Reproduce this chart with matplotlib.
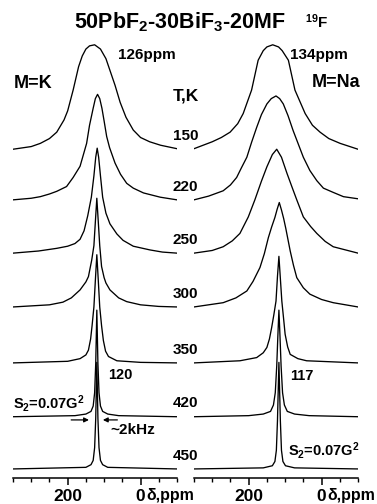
import numpy as np
import matplotlib
matplotlib.use('Agg')
import matplotlib.pyplot as plt
from matplotlib.ticker import MultipleLocator, FixedLocator

plt.rcParams['font.family'] = ['Liberation Sans', 'DejaVu Sans']
plt.rcParams['font.weight'] = 'bold'
plt.rcParams['mathtext.fontset'] = 'custom'
plt.rcParams['mathtext.rm'] = 'Liberation Sans:bold'
plt.rcParams['mathtext.bf'] = 'Liberation Sans:bold'
plt.rcParams['mathtext.it'] = 'Liberation Sans:bold'

# temperatures, top trace first
temps = ['150', '220', '250', '300', '350', '420', '450']
offsets = [6.0, 5.05, 4.05, 3.04, 1.99, 0.98, 0.0]

# ---- M=K spectra (ppm, intensity)
K150_ppm = [350, 300, 275, 250, 230, 210, 200, 185, 170, 160, 150, 140, 126, 110, 95, 85, 70, 56, 40, 20, 0, -25, -55, -100]
K150_I = [0.0, 0.05, 0.11, 0.2, 0.32, 0.55, 0.72, 1.11, 1.55, 1.75, 1.88, 1.94, 1.96, 1.88, 1.7, 1.5, 1.2, 0.88, 0.6, 0.36, 0.22, 0.14, 0.075, 0.01]
K220_ppm = [350, 300, 275, 250, 230, 203, 185, 166, 148, 140, 130, 124, 118, 112, 106, 100, 93, 85, 70, 55, 38, 20, -8, -54, -100]
K220_I = [0.0, 0.03, 0.06, 0.11, 0.16, 0.25, 0.42, 0.63, 1.06, 1.4, 1.72, 1.9, 1.98, 1.9, 1.72, 1.48, 1.19, 0.98, 0.69, 0.48, 0.31, 0.22, 0.13, 0.05, 0.0]
K250_ppm = [350, 280, 230, 200, 180, 166, 155, 145, 135, 128, 123, 119, 115, 110, 104, 95, 84, 65, 48, 20, -26, -60, -100]
K250_I = [0.0, 0.04, 0.09, 0.13, 0.18, 0.26, 0.42, 0.7, 1.05, 1.45, 1.8, 1.97, 1.8, 1.45, 1.05, 0.75, 0.55, 0.36, 0.24, 0.13, 0.06, 0.02, 0.0]
K300_ppm = [350, 250, 213, 190, 166, 150, 143, 134, 128, 124, 120, 116, 112, 107, 100, 95, 84, 60, 38, 0, -50, -100]
K300_I = [0.0, 0.04, 0.09, 0.17, 0.32, 0.47, 0.57, 0.88, 1.15, 1.6, 2.04, 1.6, 1.15, 0.76, 0.55, 0.45, 0.32, 0.17, 0.1, 0.04, 0.01, 0.0]
K350_ppm = [350, 200, 166, 150, 143, 137, 133, 128, 124, 120, 116, 112, 107, 102, 96, 88, 65, 0, -100]
K350_I = [0.0, 0.03, 0.08, 0.15, 0.24, 0.45, 0.7, 1.05, 1.55, 2.03, 1.55, 1.05, 0.7, 0.42, 0.22, 0.12, 0.04, 0.01, 0.0]
K420_ppm = [350, 180, 150, 136, 130, 126, 123, 120, 117, 114, 110, 104, 90, 60, -100]
K420_I = [0.0, 0.02, 0.05, 0.1, 0.2, 0.45, 1.0, 2.0, 1.0, 0.45, 0.2, 0.1, 0.05, 0.02, 0.0]
K450_ppm = [350, 150, 136, 130, 126, 123, 120, 117, 114, 110, 104, 90, -100]
K450_I = [0.0, 0.03, 0.08, 0.16, 0.4, 0.95, 2.0, 0.95, 0.4, 0.16, 0.08, 0.03, 0.0]

# ---- M=Na spectra
Na150_ppm = [350, 300, 275, 251, 230, 215, 192, 174, 160, 150, 134, 118, 108, 91, 73, 45, 25, 4, -20, -51, -100]
Na150_I = [0.01, 0.14, 0.22, 0.32, 0.48, 0.67, 1.11, 1.67, 1.85, 1.92, 1.96, 1.92, 1.85, 1.67, 1.11, 0.67, 0.45, 0.32, 0.2, 0.11, 0.0]
Na220_ppm = [350, 310, 270, 250, 233, 220, 205, 192, 178, 165, 150, 138, 125, 115, 105, 92, 78, 64, 50, 32, 13, -5, -32, -60, -100]
Na220_I = [0.0, 0.07, 0.17, 0.28, 0.42, 0.6, 0.8, 1.08, 1.36, 1.6, 1.8, 1.9, 1.95, 1.9, 1.8, 1.58, 1.3, 1.05, 0.8, 0.55, 0.36, 0.22, 0.14, 0.06, 0.02]
Na250_ppm = [350, 300, 270, 245, 224, 201, 183, 165, 150, 135, 123, 110, 95, 80, 68, 50, 30, 13, -10, -32, -100]
Na250_I = [0.0, 0.05, 0.12, 0.23, 0.37, 0.68, 1.0, 1.35, 1.62, 1.85, 1.95, 1.8, 1.5, 1.22, 1.0, 0.68, 0.5, 0.37, 0.22, 0.12, 0.0]
Na300_ppm = [350, 270, 235, 205, 188, 169, 157, 146, 137, 128, 122, 116, 110, 104, 98, 92, 86, 77, 68, 50, 32, 0, -32, -100]
Na300_I = [0.0, 0.08, 0.17, 0.3, 0.48, 0.74, 1.0, 1.3, 1.5, 1.68, 1.83, 1.96, 1.82, 1.66, 1.47, 1.26, 1.05, 0.78, 0.55, 0.36, 0.24, 0.14, 0.08, 0.0]
Na350_ppm = [350, 224, 178, 160, 150, 143, 137, 131, 125, 121, 117, 113, 109, 104, 100, 93, 86, 65, 41, -100]
Na350_I = [0.0, 0.04, 0.1, 0.19, 0.29, 0.45, 0.66, 0.9, 1.16, 1.62, 2.0, 1.58, 1.16, 0.82, 0.54, 0.3, 0.16, 0.08, 0.04, 0.0]
Na420_ppm = [350, 200, 160, 140, 132, 127, 123, 120, 117, 114, 111, 107, 102, 94, 74, 34, -100]
Na420_I = [0.0, 0.02, 0.05, 0.1, 0.22, 0.45, 0.95, 1.5, 2.0, 1.5, 0.95, 0.45, 0.22, 0.1, 0.05, 0.02, 0.0]
Na450_ppm = [350, 160, 135, 128, 124, 121, 117, 113, 110, 106, 99, 74, -100]
Na450_I = [0.0, 0.02, 0.06, 0.14, 0.35, 0.9, 2.0, 0.9, 0.35, 0.14, 0.06, 0.02, 0.0]

K_ppm = [K150_ppm, K220_ppm, K250_ppm, K300_ppm, K350_ppm, K420_ppm, K450_ppm]
K_I = [K150_I, K220_I, K250_I, K300_I, K350_I, K420_I, K450_I]
Na_ppm = [Na150_ppm, Na220_ppm, Na250_ppm, Na300_ppm, Na350_ppm, Na420_ppm, Na450_ppm]
Na_I = [Na150_I, Na220_I, Na250_I, Na300_I, Na350_I, Na420_I, Na450_I]

W, H = 377, 504
fig = plt.figure(figsize=(W / 100, H / 100), dpi=100)
bot = (H - 478) / H
hgt = (478 - 40) / H
axK = fig.add_axes([13 / W, bot, 164 / W, hgt])
axNa = fig.add_axes([194 / W, bot, 164 / W, hgt])

for ax, xs, ys in [(axK, K_ppm, K_I), (axNa, Na_ppm, Na_I)]:
    for i in range(len(temps)):
        ax.plot(xs[i], np.array(ys[i]) + offsets[i], color='black', lw=0.95)
    ax.set_xlim(350, -100)
    ax.set_ylim(-0.17, 8.05)
    for s in ['top', 'left', 'right']:
        ax.spines[s].set_visible(False)
    ax.spines['bottom'].set_linewidth(1.1)
    ax.set_yticks([])
    ax.xaxis.set_major_locator(FixedLocator([200, 0]))
    ax.xaxis.set_minor_locator(MultipleLocator(50))
    ax.tick_params(axis='x', which='major', direction='out', length=5, width=1.1, pad=3, labelsize=12.5)
    ax.tick_params(axis='x', which='minor', direction='out', length=3, width=1.0)
    ax.set_xticklabels(['200', '0'], fontweight='bold')
    ax.set_xlabel('δ,ppm', fontsize=11.5, fontweight='bold', ha='left', va='top')
    ax.xaxis.set_label_coords(0.812, -0.022)
    ax.patch.set_visible(False)

# temperature labels in the gap
axK.text(1.053, 7.0, 'T,K', transform=axK.get_yaxis_transform(), ha='center', va='center', fontsize=12.5, clip_on=False)
for i, t in enumerate(temps):
    axK.text(1.053, offsets[i] + 0.25, t, transform=axK.get_yaxis_transform(), ha='center', va='center', fontsize=11, clip_on=False)

# panel annotations
axK.text(349, 7.24, 'M=K', ha='left', va='center', fontsize=13)
axK.text(62, 7.77, '126ppm', ha='left', va='center', fontsize=11)
axK.text(89, 1.76, '120', ha='left', va='center', fontsize=10.5)
axK.text(351, 1.22, 'S$_2$=0.07G$^2$', ha='left', va='center', fontsize=10.5)
axK.annotate('', xy=(134, 0.92), xytext=(198, 0.92),
             arrowprops=dict(arrowstyle='-|>', color='black', lw=0.9, mutation_scale=7))
axK.annotate('', xy=(111, 0.92), xytext=(56, 0.92),
             arrowprops=dict(arrowstyle='-|>', color='black', lw=0.9, mutation_scale=7))
axK.text(84, 0.73, '~2kHz', ha='left', va='center', fontsize=11)

axNa.text(27, 7.26, 'M=Na', ha='left', va='center', fontsize=13)
axNa.text(86, 7.77, '134ppm', ha='left', va='center', fontsize=11)
axNa.text(86, 1.74, '117', ha='left', va='center', fontsize=10.5)
axNa.text(92, 0.34, 'S$_2$=0.07G$^2$', ha='left', va='center', fontsize=10.5)

fig.text(180 / W, 1 - 22 / H, '50PbF$_2$-30BiF$_3$-20MF', ha='center', va='center', fontsize=15.5)
fig.text(305 / W, 1 - 22 / H, '$^{19}$F', ha='left', va='center', fontsize=11)

fig.savefig('out.png', dpi=100)
